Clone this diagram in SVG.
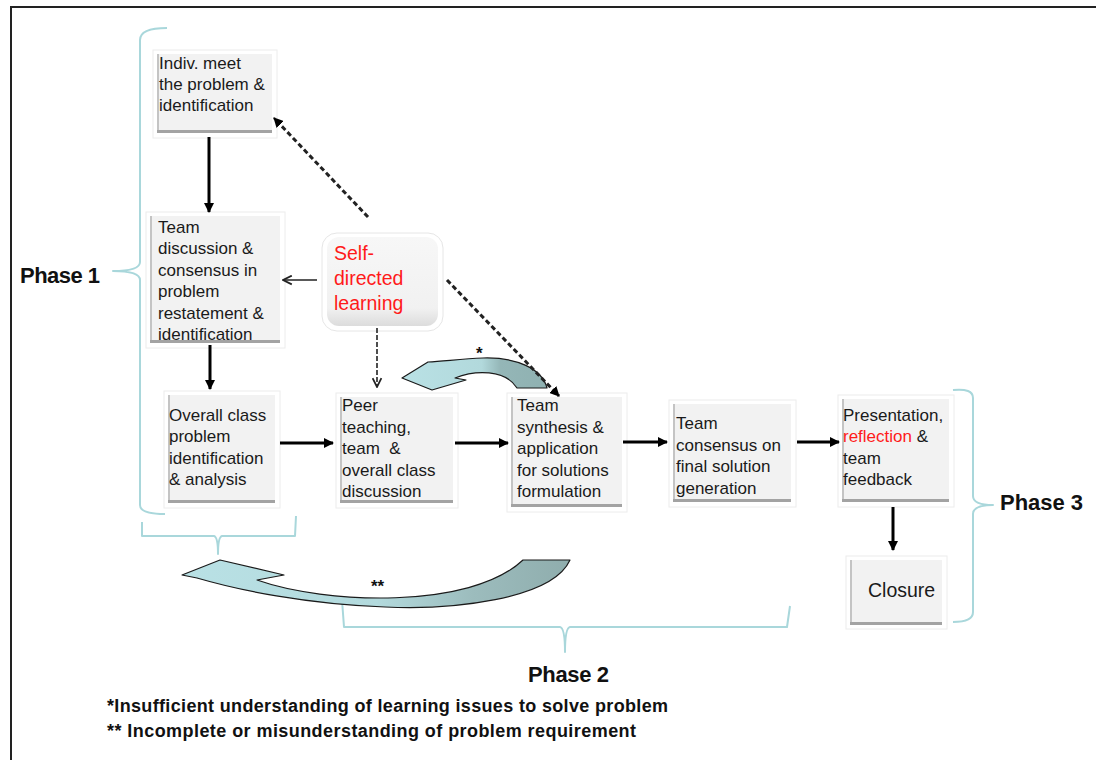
<svg xmlns="http://www.w3.org/2000/svg" width="1096" height="760" viewBox="0 0 1096 760">
  <style>
    text { font-family: "Liberation Sans", Arial, sans-serif; fill: #1a1a1a; }
    .lbl { font-size: 17px; }
    .red { fill: #ff1a1a; }
    .phase { font-size: 22px; font-weight: bold; fill: #111; }
    .note { font-size: 18px; font-weight: bold; fill: #111; }
    .star { font-size: 17px; font-weight: bold; fill: #111; }
    .glow { fill: #ffffff; stroke: #ececec; stroke-width: 1; }
    .face { fill: #f2f2f2; }
    .bevel-b { stroke: #a3a3a3; stroke-width: 3; }
    .bevel-l { stroke: #c4c4c4; stroke-width: 2; }
    .brace { fill: none; stroke: #a9d7db; stroke-width: 2; stroke-linejoin: round; }
    .solid { fill: none; stroke: #000; stroke-width: 3; marker-end: url(#head); }
    .thin { fill: none; stroke: #222; stroke-width: 1.6; marker-end: url(#chev); }
    .dash { fill: none; stroke: #222; stroke-width: 3; stroke-dasharray: 5 3; marker-end: url(#head); }
    .dthin { fill: none; stroke: #222; stroke-width: 1.6; stroke-dasharray: 5 2; marker-end: url(#chev); }
    .loop { stroke: #1a1a1a; stroke-width: 1.2; stroke-linejoin: round; }
  </style>
  <defs>
    <marker id="head" viewBox="0 0 10 10" refX="9" refY="5" markerWidth="10" markerHeight="10" markerUnits="userSpaceOnUse" orient="auto">
      <path d="M0,0 L10,5 L0,10 Z" fill="#000"/>
    </marker>
    <marker id="chev" viewBox="0 0 10 10" refX="9" refY="5" markerWidth="11" markerHeight="11" markerUnits="userSpaceOnUse" orient="auto">
      <path d="M1,1 L9,5 L1,9" fill="none" stroke="#222" stroke-width="1.6"/>
    </marker>
    <linearGradient id="loopSmall" x1="402" y1="0" x2="547" y2="0" gradientUnits="userSpaceOnUse">
      <stop offset="0" stop-color="#b9e1e5"/>
      <stop offset="0.55" stop-color="#b2d9dc"/>
      <stop offset="0.68" stop-color="#94b6b7"/>
      <stop offset="1" stop-color="#8fb1b1"/>
    </linearGradient>
    <linearGradient id="loopBig" x1="182" y1="0" x2="570" y2="0" gradientUnits="userSpaceOnUse">
      <stop offset="0" stop-color="#b9e1e5"/>
      <stop offset="0.5" stop-color="#b3dadd"/>
      <stop offset="0.75" stop-color="#9cbcbd"/>
      <stop offset="1" stop-color="#8fadad"/>
    </linearGradient>
    <linearGradient id="soft" x1="0" y1="0" x2="0" y2="1">
      <stop offset="0" stop-color="#f7f7f7"/>
      <stop offset="0.8" stop-color="#f1f1f1"/>
      <stop offset="1" stop-color="#dcdcdc"/>
    </linearGradient>
  </defs>

  <!-- outer frame -->
  <path d="M11,760 L11,7 L1096,7" fill="none" stroke="#222" stroke-width="2"/>

  <!-- phase braces -->
  <g id="braces">
    <path class="brace" d="M167,28 Q140,28 140,40 L140,262 Q140,271 113,271 Q140,271 140,280 L140,505 Q140,514 165,514"/>
    <path class="brace" d="M142,522 L142,536 L214,536 Q218,537 218,554 Q218,537 222,536 L295,536 L296,516"/>
    <path class="brace" d="M342,600 L344,627 L560,627 Q565,628 565,652 Q565,628 570,627 L787,627 L790,606"/>
    <path class="brace" d="M953,390 Q973,388 973,398 L973,496 Q973,505 993,505 Q973,505 973,514 L973,612 Q973,622 953,622"/>
  </g>

  <!-- phase labels -->
  <text class="phase" x="20" y="283" textLength="80">Phase 1</text>
  <text class="phase" x="528" y="682" textLength="81">Phase 2</text>
  <text class="phase" x="1000" y="510" textLength="83">Phase 3</text>

  <!-- feedback loops -->
  <g id="loops">
    <path class="loop" fill="url(#loopSmall)" d="M517,388 L547,388 C542,368 515,357 483,358 C462,359 445,361 428,362 L402,378 L432,390 L466,380 L455,378 C475,370 505,369 517,388 Z"/>
    <text class="star" x="476" y="359">*</text>
    <path class="loop" fill="url(#loopBig)" d="M523,560 L570,560 C552,600 450,610 385,607 C305,604 238,590 197,578 L182,575 L220,560 L284,575 L257,580 C325,604 470,610 523,560 Z"/>
    <text class="star" x="371" y="592">**</text>
  </g>

  <!-- process steps -->
  <g id="n-indiv">
    <rect class="glow" x="153" y="50" width="124" height="88"/>
    <rect class="face" x="157" y="54" width="115" height="79"/>
    <line class="bevel-l" x1="158" y1="54" x2="158" y2="133"/>
    <line class="bevel-b" x1="157" y1="131.5" x2="272" y2="131.5"/>
    <text class="lbl" x="159"><tspan x="159" y="69">Indiv. meet</tspan><tspan x="159" y="90">the problem &amp;</tspan><tspan x="159" y="111">identification</tspan></text>
  </g>

  <g id="n-team-discussion">
    <rect class="glow" x="146" y="212" width="139" height="136"/>
    <rect class="face" x="150" y="216" width="130" height="127"/>
    <line class="bevel-l" x1="151" y1="216" x2="151" y2="343"/>
    <line class="bevel-b" x1="150" y1="341.5" x2="280" y2="341.5"/>
    <text class="lbl"><tspan x="158" y="233">Team</tspan><tspan x="158" y="254">discussion &amp;</tspan><tspan x="158" y="276">consensus in</tspan><tspan x="158" y="297">problem</tspan><tspan x="158" y="319">restatement &amp;</tspan><tspan x="158" y="340">identification</tspan></text>
  </g>

  <g id="n-self-directed">
    <rect x="322" y="233" width="121" height="98" rx="15" fill="#ffffff" stroke="#e6e6e6" stroke-width="1"/>
    <rect x="327" y="237" width="111" height="89" rx="12" fill="url(#soft)"/>
    <text class="red" font-size="19.5"><tspan x="334" y="260">Self-</tspan><tspan x="334" y="285">directed</tspan><tspan x="334" y="310">learning</tspan></text>
  </g>

  <g id="n-overall-class">
    <rect class="glow" x="164" y="391" width="116" height="117"/>
    <rect class="face" x="168" y="395" width="107" height="108"/>
    <line class="bevel-l" x1="169" y1="395" x2="169" y2="503"/>
    <line class="bevel-b" x1="168" y1="501.5" x2="275" y2="501.5"/>
    <text class="lbl"><tspan x="169" y="421">Overall class</tspan><tspan x="169" y="442">problem</tspan><tspan x="169" y="464">identification</tspan><tspan x="169" y="485">&amp; analysis</tspan></text>
  </g>

  <g id="n-peer-teaching">
    <rect class="glow" x="336" y="393" width="122" height="115"/>
    <rect class="face" x="340" y="397" width="113" height="106"/>
    <line class="bevel-l" x1="341" y1="397" x2="341" y2="503"/>
    <line class="bevel-b" x1="340" y1="501.5" x2="453" y2="501.5"/>
    <text class="lbl"><tspan x="342" y="411">Peer</tspan><tspan x="342" y="433">teaching,</tspan><tspan x="342" y="454" xml:space="preserve">team  &amp;</tspan><tspan x="342" y="476">overall class</tspan><tspan x="342" y="497">discussion</tspan></text>
  </g>

  <g id="n-team-synthesis">
    <rect class="glow" x="507" y="393" width="120" height="119"/>
    <rect class="face" x="511" y="397" width="111" height="110"/>
    <line class="bevel-l" x1="512" y1="397" x2="512" y2="507"/>
    <line class="bevel-b" x1="511" y1="505.5" x2="622" y2="505.5"/>
    <text class="lbl"><tspan x="517" y="411">Team</tspan><tspan x="517" y="433">synthesis &amp;</tspan><tspan x="517" y="454">application</tspan><tspan x="517" y="476">for solutions</tspan><tspan x="517" y="497">formulation</tspan></text>
  </g>

  <g id="n-team-consensus">
    <rect class="glow" x="669" y="400" width="127" height="107"/>
    <rect class="face" x="673" y="404" width="118" height="98"/>
    <line class="bevel-l" x1="674" y1="404" x2="674" y2="502"/>
    <line class="bevel-b" x1="673" y1="500.5" x2="791" y2="500.5"/>
    <text class="lbl"><tspan x="676" y="429">Team</tspan><tspan x="676" y="451">consensus on</tspan><tspan x="676" y="472">final solution</tspan><tspan x="676" y="494">generation</tspan></text>
  </g>

  <g id="n-presentation">
    <rect class="glow" x="838" y="395" width="116" height="112"/>
    <rect class="face" x="842" y="399" width="107" height="103"/>
    <line class="bevel-l" x1="843" y1="399" x2="843" y2="502"/>
    <line class="bevel-b" x1="842" y1="500.5" x2="949" y2="500.5"/>
    <text class="lbl"><tspan x="843" y="421">Presentation,</tspan><tspan x="843" y="442"><tspan class="red">reflection</tspan> &amp;</tspan><tspan x="843" y="464">team</tspan><tspan x="843" y="485">feedback</tspan></text>
  </g>

  <g id="n-closure">
    <rect class="glow" x="846" y="556" width="101" height="73"/>
    <rect class="face" x="850" y="560" width="92" height="65"/>
    <line class="bevel-l" x1="851" y1="560" x2="851" y2="625"/>
    <line class="bevel-b" x1="850" y1="623.5" x2="942" y2="623.5"/>
    <text x="868" y="597" font-size="19.5">Closure</text>
  </g>

  <!-- connectors -->
  <g id="connectors">
    <path class="solid" d="M209,137 L209,212"/>
    <path class="solid" d="M210,345 L210,389"/>
    <path class="thin" d="M317,280 L283,280"/>
    <path class="dthin" d="M377,328 L377,387"/>
    <path class="dash" d="M368,217 L274,118"/>
    <path class="dash" d="M447,280 L559,396"/>
    <path class="solid" d="M280,443 L333,443"/>
    <path class="solid" d="M455,443 L508,443"/>
    <path class="solid" d="M623,442 L667,442"/>
    <path class="solid" d="M797,442 L839,442"/>
    <path class="solid" d="M893,507 L893,550"/>
  </g>

  <!-- footnotes -->
  <text class="note" x="107" y="712" textLength="561">*Insufficient understanding of learning issues to solve problem</text>
  <text class="note" x="107" y="737" textLength="529">** Incomplete or misunderstanding of problem requirement</text>
</svg>
